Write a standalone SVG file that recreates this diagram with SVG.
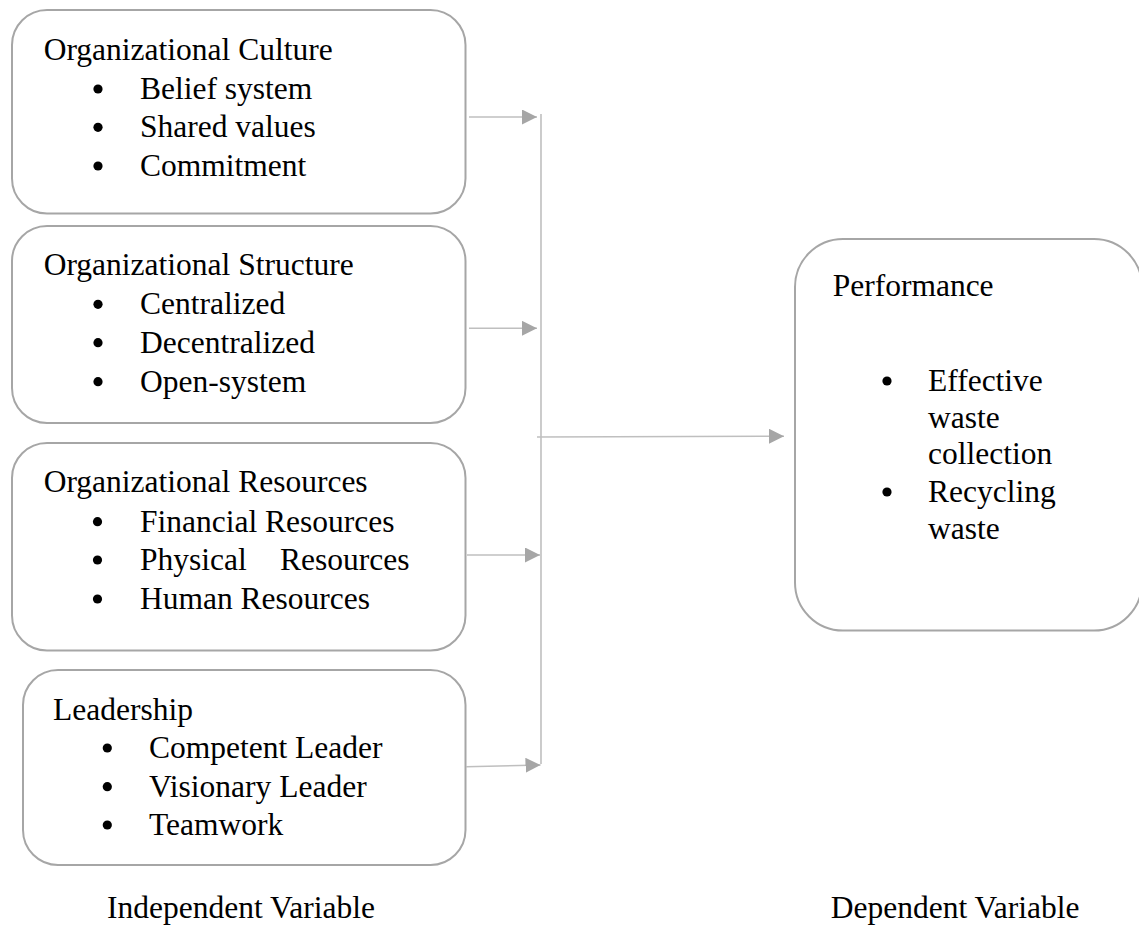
<svg xmlns="http://www.w3.org/2000/svg" width="1139" height="926" viewBox="0 0 1139 926">
<style>
.box{fill:#fff;stroke:#a6a6a6;stroke-width:2}
.t{font-family:"Liberation Serif","Times New Roman",serif;font-size:31.5px;fill:#000}
.b{fill:#000}
.c{stroke:#bfbfbf;stroke-width:1.6;fill:none}
</style>
<defs>
<marker id="ah" markerUnits="userSpaceOnUse" markerWidth="16" markerHeight="16" refX="15" refY="7.5" orient="auto">
<path d="M0,0 L15,7.5 L0,15 z" fill="#a6a6a6"/>
</marker>
</defs>
<rect width="1139" height="926" fill="#fff"/>
<g id="culture">
<rect class="box" x="12" y="10" width="453.5" height="203.5" rx="35" ry="35"/>
<text class="t" x="43.7" y="60">Organizational Culture</text>
<circle class="b" cx="98" cy="89" r="4.6"/><text class="t" x="140" y="99">Belief system</text>
<circle class="b" cx="98" cy="127.3" r="4.6"/><text class="t" x="140" y="137.3">Shared values</text>
<circle class="b" cx="98" cy="166" r="4.6"/><text class="t" x="140" y="176">Commitment</text>
</g>
<g id="structure">
<rect class="box" x="12" y="226" width="453.5" height="197" rx="35" ry="35"/>
<text class="t" x="43.7" y="275">Organizational Structure</text>
<circle class="b" cx="98" cy="304.3" r="4.6"/><text class="t" x="140" y="314.3">Centralized</text>
<circle class="b" cx="98" cy="342.7" r="4.6"/><text class="t" x="140" y="352.7">Decentralized</text>
<circle class="b" cx="98" cy="381.7" r="4.6"/><text class="t" x="140" y="391.7">Open-system</text>
</g>
<g id="resources">
<rect class="box" x="12" y="443" width="453.5" height="207.5" rx="35" ry="35"/>
<text class="t" x="43.7" y="492">Organizational Resources</text>
<circle class="b" cx="97.5" cy="521.7" r="4.6"/><text class="t" x="140" y="531.7">Financial Resources</text>
<circle class="b" cx="97.5" cy="560" r="4.6"/><text class="t" x="140" y="570">Physical<tspan x="280">Resources</tspan></text>
<circle class="b" cx="97.5" cy="599" r="4.6"/><text class="t" x="140" y="609">Human Resources</text>
</g>
<g id="leadership">
<rect class="box" x="23" y="670" width="442.5" height="195" rx="35" ry="35"/>
<text class="t" x="53" y="720">Leadership</text>
<circle class="b" cx="107.3" cy="748" r="4.6"/><text class="t" x="149" y="758">Competent Leader</text>
<circle class="b" cx="107.3" cy="786.7" r="4.6"/><text class="t" x="149" y="796.7">Visionary Leader</text>
<circle class="b" cx="107.3" cy="825" r="4.6"/><text class="t" x="149" y="835">Teamwork</text>
</g>
<g id="performance">
<rect class="box" x="795" y="239" width="347" height="391.5" rx="48" ry="48"/>
<text class="t" x="832.7" y="296">Performance</text>
<circle class="b" cx="887" cy="381" r="4.6"/>
<text class="t" x="928" y="391">Effective</text>
<text class="t" x="928" y="427.5">waste</text>
<text class="t" x="928" y="464">collection</text>
<circle class="b" cx="887" cy="492" r="4.6"/>
<text class="t" x="928" y="502">Recycling</text>
<text class="t" x="928" y="539">waste</text>
</g>
<g id="labels">
<text class="t" x="107" y="918">Independent Variable</text>
<text class="t" x="830.7" y="918">Dependent Variable</text>
</g>
<g id="connectors">
<line class="c" x1="541" y1="114" x2="541" y2="764"/>
<line class="c" x1="469" y1="117" x2="537" y2="117" marker-end="url(#ah)"/>
<line class="c" x1="469" y1="328.3" x2="537" y2="328.3" marker-end="url(#ah)"/>
<line class="c" x1="467" y1="555" x2="540" y2="555" marker-end="url(#ah)"/>
<line class="c" x1="466" y1="766.7" x2="540.5" y2="765" marker-end="url(#ah)"/>
<line class="c" x1="537" y1="437" x2="784" y2="436.2" marker-end="url(#ah)"/>
</g>
</svg>
